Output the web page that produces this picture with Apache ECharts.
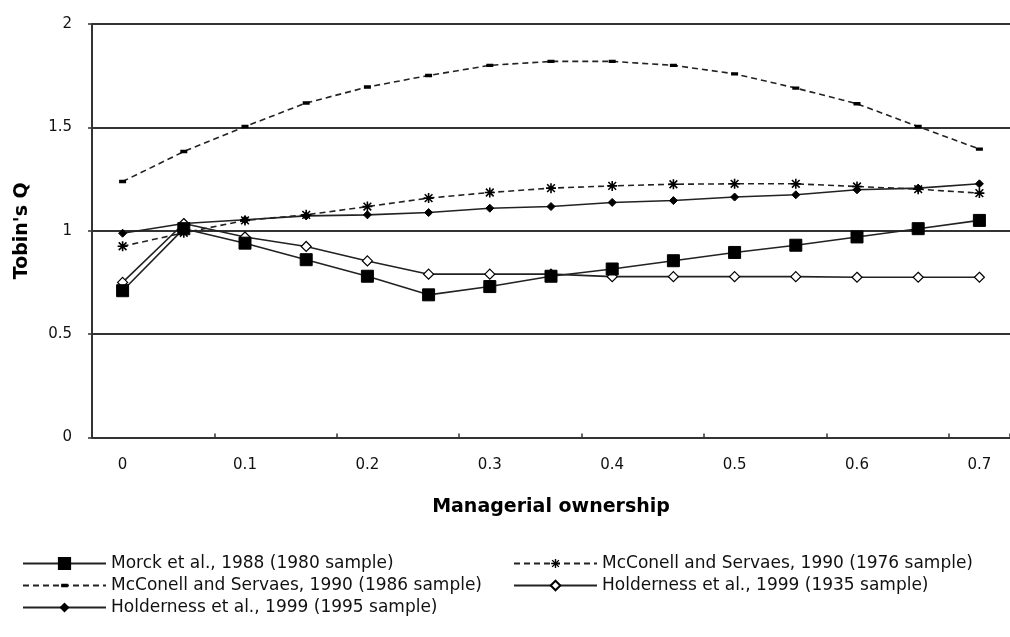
<!DOCTYPE html>
<html>
<head>
<meta charset="utf-8">
<script src="https://cdn.jsdelivr.net/npm/echarts@6/dist/echarts.min.js"></script>
<style>html,body{margin:0;padding:0;background:#fff}#c{width:1010px;height:637px}</style>
</head>
<body>
<div id="c"></div>
<script>
const categories = ['0','0.05','0.1','0.15','0.2','0.25','0.3','0.35','0.4','0.45','0.5','0.55','0.6','0.65','0.7'];
const yTicks = [0, 0.5, 1, 1.5, 2];
const morck1980 = [0.71, 1.01, 0.94, 0.86, 0.78, 0.69, 0.73, 0.78, 0.815, 0.855, 0.895, 0.93, 0.97, 1.01, 1.05];
const mcconell1976 = [0.925, 0.99, 1.05, 1.077, 1.117, 1.158, 1.185, 1.206, 1.217, 1.225, 1.227, 1.227, 1.214, 1.201, 1.182];
const mcconell1986 = [1.238, 1.383, 1.504, 1.618, 1.695, 1.751, 1.80, 1.819, 1.819, 1.80, 1.759, 1.69, 1.614, 1.504, 1.395];
const holderness1935 = [0.75, 1.035, 0.97, 0.924, 0.854, 0.79, 0.79, 0.79, 0.778, 0.778, 0.778, 0.778, 0.775, 0.775, 0.775];
const holderness1995 = [0.988, 1.035, 1.053, 1.072, 1.077, 1.088, 1.109, 1.117, 1.137, 1.146, 1.163, 1.174, 1.198, 1.206, 1.227];
const names = [
  'Morck et al., 1988 (1980 sample)',
  'McConell and Servaes, 1990 (1976 sample)',
  'McConell and Servaes, 1990 (1986 sample)',
  'Holderness et al., 1999 (1935 sample)',
  'Holderness et al., 1999 (1995 sample)'
];

const LINE = '#222';
const FONT = 'DejaVu Sans';
const asterisk = 'path://M4.2,0L5.8,0L5.8,10L4.2,10Z M0,4.2L10,4.2L10,5.8L0,5.8Z M0.6,1.7L1.7,0.6L9.4,8.3L8.3,9.4Z M8.3,0.6L9.4,1.7L1.7,9.4L0.6,8.3Z';
// small horizontal dash inside a square box (tiny corner specks keep the box square)
const dash = 'path://M0,0L0.01,0L0,0.01Z M10,10L9.99,10L10,9.99Z M1.5,3.3L8.5,3.3L8.5,6.7L1.5,6.7Z';

function mk(name, data, opts) {
  return Object.assign({
    name: name, type: 'line', data: data,
    showSymbol: true, animation: false,
    lineStyle: { color: LINE, width: 1.6, type: 'solid' },
    itemStyle: { color: '#000', borderColor: '#000', borderWidth: 1 },
    emphasis: { disabled: true }
  }, opts);
}

const series = [
  mk(names[2], mcconell1986, { symbol: dash, symbolSize: 10, itemStyle: { color: '#000', borderWidth: 0 }, lineStyle: { color: LINE, width: 1.6, type: [6, 4] } }),
  mk(names[1], mcconell1976, { symbol: asterisk, symbolSize: 10, itemStyle: { color: '#000', borderWidth: 0 }, lineStyle: { color: LINE, width: 1.6, type: [6, 4] } }),
  mk(names[4], holderness1995, { symbol: 'diamond', symbolSize: 8 }),
  mk(names[3], holderness1935, { symbol: 'diamond', symbolSize: 10, itemStyle: { color: '#fff', borderColor: '#000', borderWidth: 1.2 } }),
  mk(names[0], morck1980, { symbol: 'rect', symbolSize: 12 })
];

const legendPos = [
  { name: names[0], left: 22, top: 555, h: 14 },
  { name: names[1], left: 513, top: 555, h: 11 },
  { name: names[2], left: 22, top: 577, h: 12 },
  { name: names[3], left: 513, top: 577, h: 12 },
  { name: names[4], left: 22, top: 599, h: 9 }
];

const legends = legendPos.map(p => ({
  data: [p.name], left: p.left, top: p.top, padding: 0,
  itemWidth: 83, itemHeight: p.h, selectedMode: false,
  textStyle: { fontFamily: FONT, fontSize: 17, color: '#111' }
}));

const chart = echarts.init(document.getElementById('c'), null, { renderer: 'canvas' });
chart.setOption({
  backgroundColor: '#fff',
  animation: false,
  legend: legends,
  grid: { left: 92, top: 24, width: 927, height: 413.5, containLabel: false },
  xAxis: {
    type: 'category', data: categories, boundaryGap: true,
    name: 'Managerial ownership', nameLocation: 'middle', nameGap: 60,
    nameTextStyle: { fontFamily: FONT, fontWeight: 'bold', fontSize: 19, color: '#000' },
    axisLine: { lineStyle: { color: '#333', width: 2 } },
    axisTick: { show: true, interval: 1, inside: true, length: 4, lineStyle: { color: '#333', width: 1.5 } },
    axisLabel: { interval: 1, margin: 20, fontFamily: FONT, fontSize: 15, color: '#111' },
    splitLine: { show: false }
  },
  yAxis: {
    type: 'value', min: 0, max: 2, interval: 0.5,
    name: "Tobin's Q", nameLocation: 'middle', nameGap: 60, nameRotate: 90,
    nameTextStyle: { fontFamily: FONT, fontWeight: 'bold', fontSize: 19, color: '#000' },
    axisLine: { show: true, lineStyle: { color: '#333', width: 2 } },
    axisTick: { show: true, length: 4, lineStyle: { color: '#333', width: 1.5 } },
    axisLabel: { margin: 20, fontFamily: FONT, fontSize: 15, color: '#111',
      formatter: v => (yTicks.indexOf(v) >= 0 ? String(v) : '') },
    splitLine: { show: true, lineStyle: { color: '#333', width: 2 } }
  },
  series: series
});
</script>
</body>
</html>
